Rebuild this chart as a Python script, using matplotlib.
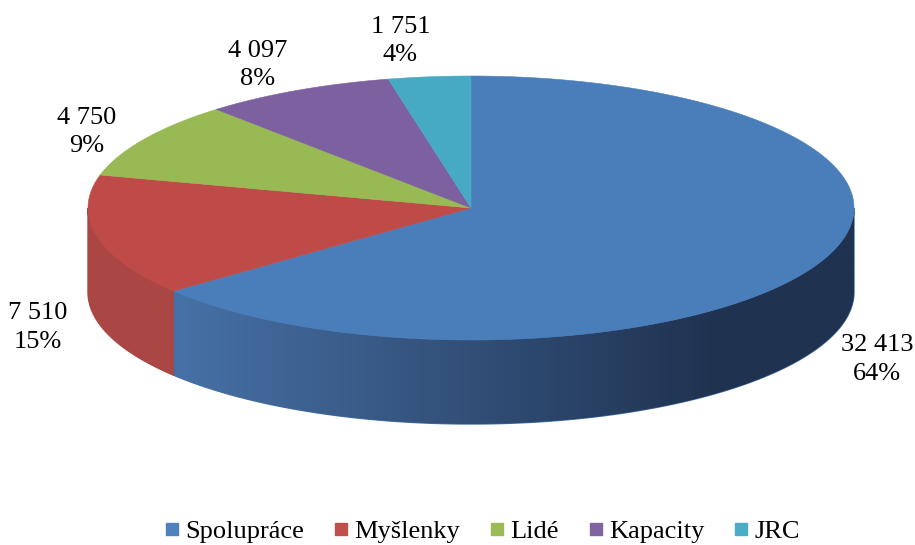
import numpy as np
import matplotlib
matplotlib.use("Agg")
import matplotlib.pyplot as plt
from matplotlib.patches import Polygon
from matplotlib.lines import Line2D
from matplotlib.colors import to_rgb

# ---- data ----
categories = ["Spolupráce", "Myšlenky", "Lidé", "Kapacity", "JRC"]
values = [32413, 7510, 4750, 4097, 1751]
pct_labels = ["64%", "15%", "9%", "8%", "4%"]

# ---- style ----
top_colors = ["#4A7EBB", "#BE4B48", "#98B954", "#7D60A0", "#46AAC5"]
legend_colors = ["#4F81BD", "#C0504D", "#9BBB59", "#8064A2", "#4BACC6"]
wall_light = ["#4771A6", "#AA4744", "#88A64B", "#70568F", "#3F98B0"]
wall_dark = ["#1F3250", "#A84542", "#88A64B", "#70568F", "#3F98B0"]

W, H = 915, 545
cx, cy, rx, ry, depth = 471, 208, 383, 132, 84
label_k = 1.19
label_nudge = [(-5, 0), (12, 2), (5, 6), (-6, -3), (-21, -11)]
FONT = "Liberation Serif"

fig = plt.figure(figsize=(W / 100, H / 100), dpi=100)
ax = fig.add_axes([0, 0, 1, 1])
ax.set_xlim(0, W)
ax.set_ylim(H, 0)
ax.axis("off")


def pt(theta_deg, dy=0.0, k=1.0):
    t = np.radians(theta_deg)
    return cx + k * rx * np.cos(t), cy - k * ry * np.sin(t) + dy


total = float(sum(values))
fracs = [v / total for v in values]
starts = []
a = 90.0
for f in fracs:
    starts.append((a, a - f * 360.0))
    a -= f * 360.0

# side walls (front visible part: angles in [-180, 0]) with horizontal gradient
x_lo, x_hi = 175, 720
for i, (a0, a1) in enumerate(starts):
    hi = min(a0, 0.0)
    lo = max(a1, -180.0)
    if hi <= lo:
        continue
    th = np.linspace(lo, hi, 300)
    xs, ys = pt(th)
    verts = list(zip(xs, ys)) + list(zip(xs[::-1], ys[::-1] + depth))
    # solid base to avoid seams
    ax.add_patch(Polygon(verts, closed=True, facecolor=wall_light[i],
                         edgecolor=wall_light[i], linewidth=1.0, zorder=0.5))
    poly = Polygon(verts, closed=True, facecolor="none", edgecolor="none")
    ax.add_patch(poly)
    xmin, xmax = xs.min(), xs.max()
    ymin, ymax = ys.min(), ys.max() + depth
    gx = np.linspace(xmin, xmax, 400)
    t = np.clip((gx - x_lo) / (x_hi - x_lo), 0, 1)[None, :, None]
    c_l = np.array(to_rgb(wall_light[i]))[None, None, :]
    c_d = np.array(to_rgb(wall_dark[i]))[None, None, :]
    img = c_l * (1 - t) + c_d * t
    img = np.repeat(img, 2, axis=0)
    im = ax.imshow(img, extent=(xmin, xmax, ymax, ymin), aspect="auto",
                   interpolation="bilinear", zorder=1)
    im.set_clip_path(poly)

# top faces
for i, (a0, a1) in enumerate(starts):
    th = np.linspace(a0, a1, 300)
    xs, ys = pt(th)
    verts = [(cx, cy)] + list(zip(xs, ys))
    ax.add_patch(Polygon(verts, closed=True, facecolor=top_colors[i],
                         edgecolor=top_colors[i], linewidth=0.4, zorder=2))

ax.set_xlim(0, W)
ax.set_ylim(H, 0)

# labels
for i, (a0, a1) in enumerate(starts):
    mid = (a0 + a1) / 2
    dy = depth if np.sin(np.radians(mid)) < 0 else 0
    x, y = pt(mid, dy=dy, k=label_k)
    x += label_nudge[i][0]
    y += label_nudge[i][1]
    txt = f"{values[i]:,}".replace(",", " ") + "\n" + pct_labels[i]
    ax.text(x, y, txt, ha="center", va="center", fontsize=19,
            family=FONT, linespacing=1.37, color="black", zorder=3)

handles = [Line2D([0], [0], marker="s", linestyle="none", markersize=9,
                  markerfacecolor=c, markeredgecolor=c) for c in legend_colors]
fig.legend(handles, categories, loc="center", bbox_to_anchor=(481 / W, 1 - 531 / H),
           ncol=5, frameon=False, handletextpad=0.1, columnspacing=1.0,
           handlelength=0.8, prop={"family": FONT, "size": 19})

fig.savefig("out.png", dpi=100)
